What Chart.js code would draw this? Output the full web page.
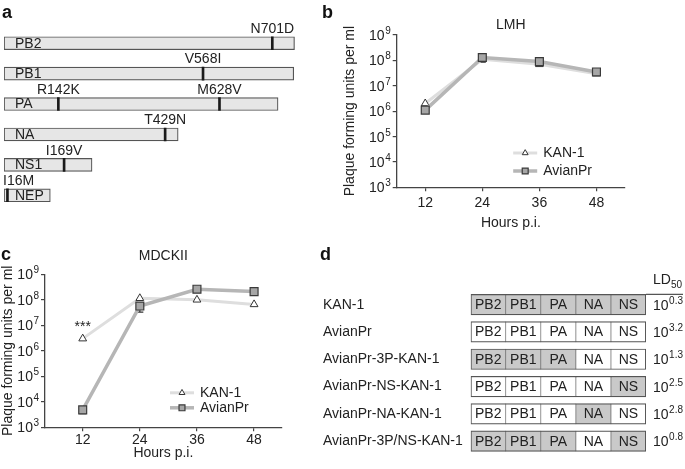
<!DOCTYPE html>
<html><head><meta charset="utf-8">
<script src="https://cdn.jsdelivr.net/npm/chart.js@4.4.1/dist/chart.umd.min.js"></script>
<style>
html,body{margin:0;padding:0;background:#fff;}
#wrap{position:relative;width:685px;height:469px;overflow:hidden;font-family:"Liberation Sans",Arial,sans-serif;}
canvas{position:absolute;}
.lt{position:absolute;font-weight:bold;font-size:18px;line-height:18px;color:#111;}
</style></head><body>
<div id="wrap">
<canvas id="ca" width="320" height="232" style="left:0;top:0"></canvas>
<canvas id="cb" width="355" height="235" style="left:330px;top:0"></canvas>
<canvas id="cc" width="330" height="234" style="left:0;top:235px"></canvas>
<canvas id="cd" width="365" height="199" style="left:320px;top:270px"></canvas>
<div class="lt" style="left:2px;top:3px">a</div>
<div class="lt" style="left:322px;top:3px">b</div>
<div class="lt" style="left:1px;top:245px">c</div>
<div class="lt" style="left:320px;top:245px">d</div>
</div>
<script>
// ---------- data ----------
// panel a
const segNames = ['PB2','PB1','PA','NA','NS1','NEP'];
const segLengths = [759,757,716,455,230,121];
const mutPosA = [701,520,142,421,157,9];
const mutPosB = [null,null,563,null,null,null];
const mutLabelA = ['N701D','V568I','R142K','T429N','I169V','I16M'];
const mutLabelB = [null,null,'M628V',null,null,null];
// panels b, c
const hours = [12,24,36,48];
const yTickExps = [3,4,5,6,7,8,9];
const lmhKan = [2.0e6,1.1e8,7.0e7,3.0e7];
const lmhAvian = [1.1e6,1.3e8,9.0e7,3.5e7];
const lmhAvianLow = [null,8.5e7,null,null];
const lmhAvianHigh = [null,null,null,null];
const mdckKan = [3.0e6,1.15e8,1.0e8,6.6e7];
const mdckAvian = [4.8e3,5.7e7,2.6e8,2.1e8];
const mdckAvianLow = [3.4e3,3.3e7,null,null];
const mdckAvianHigh = [null,null,null,null];
const mdckSig = ['***',null,null,null];
// panel d
const strains = ['KAN-1','AvianPr','AvianPr-3P-KAN-1','AvianPr-NS-KAN-1','AvianPr-NA-KAN-1','AvianPr-3P/NS-KAN-1'];
const segCols = ['PB2','PB1','PA','NA','NS'];
const kanOrigin = [[1,1,1,1,1],[0,0,0,0,0],[1,1,1,0,0],[0,0,0,0,1],[0,0,0,1,0],[1,1,1,0,1]];
const ld50Exp = ['0.3','3.2','1.3','2.5','2.8','0.8'];

// ---------- setup ----------
const FF = '"Liberation Sans", Arial, sans-serif';
Chart.defaults.font.family = FF;
Chart.defaults.font.size = 14;
Chart.defaults.color = '#222';
const TXT = '#222';

// ---------- panel a ----------
new Chart(document.getElementById('ca'), {
  type: 'bar',
  data: {
    labels: segNames,
    datasets: [
      {data: segLengths.map(l => [0, l]), backgroundColor: '#e6e6e6', borderColor: '#555', borderWidth: 1.2,
       borderSkipped: false, barThickness: 13, grouped: false, order: 3},
      {data: mutPosA.map(p => p == null ? null : [p - 2.6, p + 2.6]), backgroundColor: '#1a1a1a', borderWidth: 0,
       barThickness: 13, grouped: false, order: 1},
      {data: mutPosB.map(p => p == null ? null : [p - 2.6, p + 2.6]), backgroundColor: '#1a1a1a', borderWidth: 0,
       barThickness: 13, grouped: false, order: 1}
    ]
  },
  options: {
    indexAxis: 'y', responsive: false, animation: false, devicePixelRatio: 1,
    layout: {padding: {left: 4, right: 9.8, top: 28, bottom: 21.5}},
    plugins: {legend: {display: false}, tooltip: {enabled: false}},
    scales: {
      x: {type: 'linear', min: 0, max: 800, display: false},
      y: {type: 'category', display: false}
    }
  },
  plugins: [{
    id: 'segText',
    afterDatasetsDraw(chart) {
      const {ctx, scales: {x, y}} = chart;
      ctx.save();
      ctx.fillStyle = TXT;
      ctx.font = '14px ' + FF;
      ctx.textBaseline = 'middle';
      segNames.forEach((n, i) => {
        const py = y.getPixelForValue(i);
        ctx.textAlign = 'left';
        ctx.fillText(n, x.getPixelForValue(0) + 11, py + 0.5);
        [[mutPosA[i], mutLabelA[i]], [mutPosB[i], mutLabelB[i]]].forEach(([p, lab]) => {
          if (p == null) return;
          const px = x.getPixelForValue(p);
          const w = ctx.measureText(lab).width;
          if (px - w / 2 < 2) { ctx.textAlign = 'left'; ctx.fillText(lab, 3, py - 14); }
          else { ctx.textAlign = 'center'; ctx.fillText(lab, px, py - 14); }
        });
      });
      ctx.restore();
    }
  }]
});

// ---------- panels b, c ----------
function lineChart(id, kan, avian, low, high, o) {
  return new Chart(document.getElementById(id), {
    type: 'line',
    data: {datasets: [
      {label: 'AvianPr', data: hours.map((h, i) => ({x: h, y: avian[i]})), borderColor: '#b6b6b6', borderWidth: 3.5,
       pointStyle: 'rect', pointRadius: 5.6, pointBackgroundColor: '#a6a6a6', pointBorderColor: '#3a3a3a',
       pointBorderWidth: 1.2, tension: 0, order: 0},
      {label: 'KAN-1', data: hours.map((h, i) => ({x: h, y: kan[i]})), borderColor: '#dedede', borderWidth: 3,
       pointStyle: 'triangle', pointRadius: 4.5, pointBackgroundColor: '#fff', pointBorderColor: '#333',
       pointBorderWidth: 1, tension: 0, order: 1}
    ]},
    options: {
      responsive: false, animation: false, devicePixelRatio: 1,
      layout: {padding: {left: 0, top: o.top, right: o.right, bottom: 0}},
      plugins: {legend: {display: false}, tooltip: {enabled: false}},
      scales: {
        x: {type: 'linear', min: o.xmin, max: o.xmax,
            afterBuildTicks: s => { s.ticks = hours.map(v => ({value: v})); },
            afterFit: s => { s.height = o.xh; },
            grid: {display: true, drawOnChartArea: false, drawTicks: true, tickLength: 4, color: '#444', lineWidth: 1.2},
            border: {display: true, color: '#444', width: 1.3},
            ticks: {padding: o.xpad, color: TXT, font: {size: 14}},
            title: {display: true, text: 'Hours p.i.', color: TXT, font: {size: 14}, padding: {top: 0, bottom: o.xtp}}},
        y: {type: 'logarithmic', min: 1e3, max: 1e9,
            afterBuildTicks: s => { s.ticks = yTickExps.map(e => ({value: Math.pow(10, e)})); },
            afterFit: s => { s.width = o.yw; },
            grid: {display: true, drawOnChartArea: false, drawTicks: true, tickLength: 4, color: '#444', lineWidth: 1.2},
            border: {display: true, color: '#444', width: 1.3},
            ticks: {display: false},
            title: {display: true, text: 'Plaque forming units per ml', color: TXT, font: {size: 14}, padding: {top: o.ytp, bottom: 0}}}
      }
    },
    plugins: [{
      id: 'errbars',
      beforeDatasetsDraw(chart) {
        const {ctx, scales: {x, y}} = chart;
        ctx.save(); ctx.strokeStyle = '#333'; ctx.lineWidth = 1.2;
        hours.forEach((h, i) => {
          const cx = x.getPixelForValue(h), cy = y.getPixelForValue(avian[i]);
          [low[i], high[i]].forEach(e => {
            if (e == null) return;
            const ey = y.getPixelForValue(e);
            ctx.beginPath(); ctx.moveTo(cx, cy); ctx.lineTo(cx, ey);
            ctx.moveTo(cx - 3.5, ey); ctx.lineTo(cx + 3.5, ey); ctx.stroke();
          });
        });
        ctx.restore();
      }
    }, {
      id: 'extras',
      afterDraw(chart) {
        const {ctx, scales: {x, y}, chartArea} = chart;
        ctx.save();
        ctx.fillStyle = TXT;
        // y tick labels 10^n
        y.ticks.forEach(t => {
          const py = y.getPixelForValue(t.value);
          const exp = String(Math.round(Math.log10(t.value)));
          const xEnd = chartArea.left - 6;
          ctx.font = '10px ' + FF;
          const ew = ctx.measureText(exp).width;
          ctx.textAlign = 'left'; ctx.textBaseline = 'alphabetic';
          ctx.fillText(exp, xEnd - ew, py - 1);
          ctx.font = '14px ' + FF; ctx.textAlign = 'right';
          ctx.fillText('10', xEnd - ew - 0.5, py + 5);
        });
        // title
        ctx.font = '14px ' + FF; ctx.textAlign = 'center'; ctx.textBaseline = 'middle';
        ctx.fillText(o.title, (chartArea.left + chartArea.right) / 2, o.titleY);
        // significance marks
        (o.sig || []).forEach((s, i) => {
          if (!s) return;
          ctx.font = '14px ' + FF;
          ctx.fillText(s, x.getPixelForValue(hours[i]), y.getPixelForValue(kan[i]) - 11);
        });
        // legend
        const metas = [chart.getDatasetMeta(1), chart.getDatasetMeta(0)];
        metas.forEach((m, k) => {
          const ds = chart.data.datasets[m.index];
          const lx = chartArea.left + o.legX, ly = chartArea.top + o.legY + k * o.legDY;
          ctx.strokeStyle = ds.borderColor; ctx.lineWidth = ds.borderWidth;
          ctx.beginPath(); ctx.moveTo(lx, ly); ctx.lineTo(lx + 24, ly); ctx.stroke();
          ctx.fillStyle = ds.pointBackgroundColor; ctx.strokeStyle = ds.pointBorderColor; ctx.lineWidth = ds.pointBorderWidth;
          Chart.helpers.drawPoint(ctx, {pointStyle: ds.pointStyle, rotation: 0, radius: ds.pointRadius * 0.75,
            borderWidth: ds.pointBorderWidth}, lx + 12, ly);
          ctx.fillStyle = TXT; ctx.font = '14px ' + FF; ctx.textAlign = 'left'; ctx.textBaseline = 'middle';
          ctx.fillText(ds.label, lx + 30, ly + 0.5);
        });
        ctx.restore();
      }
    }]
  });
}

lineChart('cb', lmhKan, lmhAvian, lmhAvianLow, lmhAvianHigh, {
  top: 35, right: 60, yw: 66.7, xh: 47.7, xmin: 6, xmax: 54, ytp: 11.6, xtp: 3.6, xpad: 3,
  title: 'LMH', titleY: 25, legX: 116.5, legY: 118, legDY: 18
});
lineChart('cc', mdckKan, mdckAvian, mdckAvianLow, mdckAvianHigh, {
  top: 39.3, right: 48.3, yw: 45, xh: 41.7, xmin: 4.08, xmax: 53.8, ytp: 0, xtp: 7.6, xpad: 0,
  title: 'MDCKII', titleY: 20.7, legX: 125, legY: 118.5, legDY: 15, sig: mdckSig
});

// ---------- panel d ----------
new Chart(document.getElementById('cd'), {
  type: 'bar',
  data: {
    labels: strains,
    datasets: segCols.map((s, j) => ({
      label: s,
      data: strains.map(() => 1),
      backgroundColor: kanOrigin.map(r => r[j] ? '#c9c9c9' : '#ffffff'),
      borderColor: '#555',
      borderWidth: {top: 1.2, bottom: 1.2, left: j === 0 ? 1.3 : 0.65, right: j === segCols.length - 1 ? 1.3 : 0.65},
      borderSkipped: false, barThickness: 20.5
    }))
  },
  options: {
    indexAxis: 'y', responsive: false, animation: false, devicePixelRatio: 1,
    layout: {padding: {left: 3, right: 39, top: 21, bottom: 14.2}},
    plugins: {legend: {display: false}, tooltip: {enabled: false}},
    scales: {
      x: {stacked: true, min: 0, max: 5, display: false},
      y: {stacked: true, afterFit: s => { s.width = 147.7; },
          grid: {display: false}, border: {display: false},
          ticks: {crossAlign: 'far', color: TXT, font: {size: 14}, padding: 0}}
    }
  },
  plugins: [{
    id: 'cellText',
    afterDraw(chart) {
      const {ctx, chartArea, scales: {y}} = chart;
      ctx.save();
      ctx.fillStyle = TXT; ctx.font = '14px ' + FF; ctx.textAlign = 'center'; ctx.textBaseline = 'middle';
      segCols.forEach((s, j) => {
        chart.getDatasetMeta(j).data.forEach(el => {
          ctx.fillText(s, (el.x + el.base) / 2, el.y + 0.5);
        });
      });
      // LD50 header and line
      const hx = chartArea.right + 7;
      ctx.textAlign = 'left'; ctx.textBaseline = 'alphabetic';
      ctx.font = '14px ' + FF;
      ctx.fillText('LD', hx, chartArea.top - 7);
      const lw = ctx.measureText('LD').width;
      ctx.font = '10px ' + FF;
      ctx.fillText('50', hx + lw, chartArea.top - 3);
      ctx.strokeStyle = '#555'; ctx.lineWidth = 1.2;
      ctx.beginPath(); ctx.moveTo(chartArea.right, chartArea.top + 3.4); ctx.lineTo(chart.width - 2, chartArea.top + 3.4); ctx.stroke();
      // LD50 values
      strains.forEach((st, i) => {
        const py = y.getPixelForValue(i);
        ctx.font = '14px ' + FF;
        ctx.fillText('10', hx, py + 5);
        const w = ctx.measureText('10').width;
        ctx.font = '10px ' + FF;
        ctx.fillText(ld50Exp[i], hx + w + 0.5, py - 1);
      });
      ctx.restore();
    }
  }]
});
</script>
</body></html>
